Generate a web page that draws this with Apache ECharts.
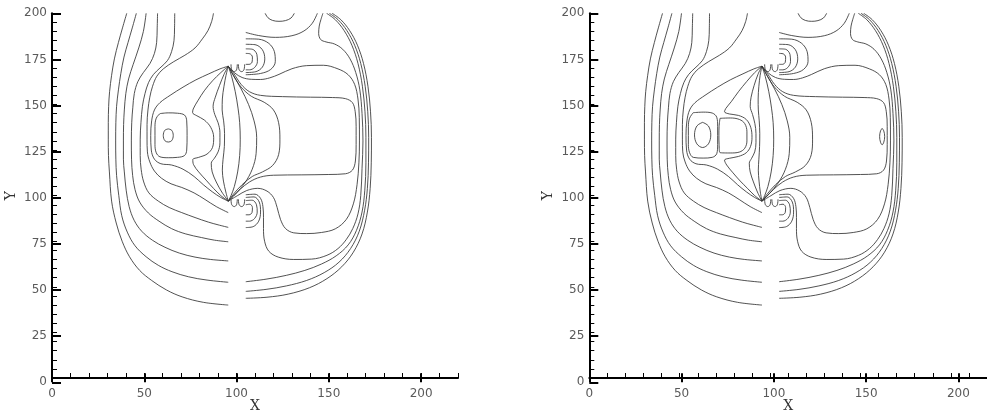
<!DOCTYPE html>
<html>
<head>
<meta charset="utf-8">
<script src="https://cdn.jsdelivr.net/npm/echarts@6.0.0/dist/echarts.min.js"></script>
<style>
html,body{margin:0;padding:0;background:#fff;}
#chart{width:987px;height:418px;}
</style>
</head>
<body>
<div id="chart"></div>
<script>
// ---- axis tick values ----
const xMajorTicks = [0, 50, 100, 150, 200];
const yMajorTicks = [0, 25, 50, 75, 100, 125, 150, 175, 200];
const xRange = [0, 220];
const yRange = [0, 200];

// ---- contour lines shared by both panels (x, y) ----
const lineA = [[40.5,200],[38.2,192],[36,184],[33.8,175],[32.3,166],[31.2,157],[30.7,149],[30.5,140],[30.5,131],[30.6,122],[31.1,113],[32.3,97],[34.8,85],[38,75],[42,66.5],[47.5,59],[54,53.5],[62,48.3],[70.5,44.5],[82,41.5],[95.5,40]];
const lineB = [[45.7,200],[43.5,192],[41.2,184],[39,176],[37.3,167],[36,158],[35,149],[34.6,140],[34.5,130],[34.6,120],[35,111],[36.2,100],[37.8,89],[40.8,80],[45,72.5],[51,66.5],[57.6,61.8],[65,58.3],[74,55.5],[84,53.7],[95.5,52.5]];
const lineC = [[51,200],[49.5,190],[47,181],[44,172],[41.5,164],[40,156],[39.2,147],[38.8,139],[38.7,130],[38.7,120],[39.2,113],[40.2,103],[41.8,94],[44.5,86.5],[48.6,80.5],[54.5,75.5],[61.2,71.7],[69,68.5],[77.5,66.3],[86,65],[95.5,64.2]];
const lineD = [[57.2,200],[57,192],[56.7,184],[55.5,178],[53.1,172.5],[49.5,167.5],[46.5,162.5],[44.6,156],[43.8,148.5],[43.2,140],[43,130],[43.1,120],[43.7,111],[45,103.3],[47.5,96.5],[52.2,90.5],[58,86],[64.8,81.9],[72.5,79],[81.1,77],[88,75.6],[95.5,74.7]];
const lineE = [[66.5,200],[66.4,192],[66.1,185],[64.8,179],[62.5,174],[58.5,170],[55,166.5],[52.3,162],[50.4,156],[49,149],[48.2,140],[47.8,131],[47.8,122],[48.3,114.5],[49.7,107.5],[52.5,101.5],[57.6,97],[63.5,93.5],[70.3,90.7],[77.5,88],[84.7,85.5],[90,84],[95.5,82.6]];
const lineF = [[87.5,200],[86.5,195.5],[84.5,190.5],[81.5,186],[77.5,181],[72,177],[66,173.5],[60.3,169.5],[56.8,165.5],[54.5,160],[53,154],[52,147],[51.5,139],[51.5,131],[51.7,124],[53,118.5],[55.5,113.5],[59.4,109.5],[64.5,106.5],[70.3,104.5],[77,101.5],[82.9,97.9],[89,94],[95.5,90.7]];
const lineG2 = [[95.5,171],[91,169.5],[85,166.8],[78,163.5],[71,159.5],[64,155],[58.5,151],[55.5,147],[54,141],[53.5,133],[53.8,125],[55.5,120],[59,117.5],[64.8,116.8],[71,114.5],[77,110.5],[82,106],[87,102],[91.5,99],[95.5,97]];

const arc1 = [[95.5,171],[97.3,165.5],[99.3,157],[100.8,148],[101.7,140],[102,131],[101.7,122],[100.6,113],[98.8,105],[97,100],[95.5,97]];
const arc2 = [[95.5,171],[98.3,166],[102.5,158.5],[106.5,150],[109.5,141],[110.9,132],[110.6,123],[108.5,114.5],[104.5,107],[99.5,101],[95.5,97]];
const arc3 = [[95.5,171],[98.5,165.5],[102.5,159.5],[108,154.5],[115,151.2],[120,147],[122.8,140],[123.5,131],[122.8,122.5],[119.5,116.5],[114,113],[108.5,110.5],[103,106],[98.5,101],[95.5,97]];
const boxR7 = [[95.5,171],[98.5,167],[102.5,161],[107,157],[113,155],[125,154.3],[140,154],[152,153.8],[159,153.2],[162.8,151],[164.3,146],[164.8,138],[164.8,128],[164.4,119],[162.8,114],[159,112],[150,111.6],[135,111.4],[120,111.2],[113,110.2],[107,107.5],[102,103.5],[98,99.5],[95.5,97]];
const lineP = [[95.5,171],[99,167.3],[103,164.8],[108,163.8],[113,163.7],[118,164.6],[123,166.5],[130,169.6],[138,171.3],[147,171.5],[155,169.5],[160.5,166.3],[164,161],[165.8,153],[166.5,143],[166.6,130],[166.3,118],[165.3,106],[163.3,95.5],[159.5,87],[153.5,81.8],[146,79.8],[138,79.2],[131,79.6],[126.5,82],[123.8,87],[122,93.5],[120,99],[116.5,102.5],[111.5,104],[105.5,102.8],[100.5,100],[95.5,97]];
const lineR6 = [[105,100.5],[110,100.8],[113,98.5],[114.3,94],[114.6,88],[114.6,82],[115.2,75],[117.5,69.5],[122.6,66.3],[131,65],[140.7,65.2],[149,67.3],[155,71],[159.5,76],[163,82],[165.8,90],[167.3,100],[168,115],[168.5,130],[168,145],[166.8,158],[164.6,167.5],[161.5,175],[157.5,180.3],[153,183.2],[148.5,184.3],[145.6,185.6],[144.5,189],[144.8,193],[145.7,196.5],[146.8,200]];
const lineB1 = [[148.8,200],[153.5,196.5],[158.3,190.5],[162.5,182.5],[165.8,172.5],[168.2,160],[169.6,146],[170.1,132],[170.1,118],[169.5,103],[168,91],[165,81],[160.5,73],[154,67],[146,62.5],[137,59],[127,56.3],[116,54.2],[105,52.8]];
const lineB2 = [[150.3,200],[155,196.5],[159.8,190.5],[164,182.5],[167.3,172.5],[169.7,160],[171.1,146],[171.6,132],[171.5,118],[170.9,104],[169.4,92],[166.5,80.5],[161.8,71],[155.5,63.5],[147.5,57.8],[138,53.5],[127,50.5],[116,48.6],[105,47.5]];
const lineB3 = [[151.8,200],[156.5,196.5],[161.3,190.5],[165.5,182.5],[168.8,172.5],[171.2,160],[172.6,146],[173.1,132],[173,118],[172.4,104],[170.9,91],[168,79],[163.3,69],[157,61],[149,54.5],[139.5,49.5],[128,46],[116.5,44.3],[105,43.7]];
const lineR2 = [[105,189.5],[112,187.8],[121,186.8],[130,187.7],[136.5,190.3],[141,194.5],[143.8,200]];
const arcTop = [[115.5,200],[117,197.6],[119.5,196.1],[123,195.6],[126.5,196],[129.5,197.4],[131.3,200]];

const bumpU1 = [[105,178],[107.2,177.8],[108.6,176],[108.4,173.2],[106.8,172],[105,172]];
const bumpU2 = [[105,180.5],[108.5,180.3],[111,177.5],[111.3,173.5],[109.8,170.3],[107,169],[105,169]];
const bumpU3 = [[105,183],[110,182.8],[114,180],[115.3,175],[114,170.5],[110.5,168],[105,167.5]];
const bumpU4 = [[105,186],[112,185.8],[117.5,183.5],[120.5,179],[121,173.5],[118.5,169.2],[113,167],[105,166.3]];
const bumpL1 = [[105,95],[107.2,95.3],[108.6,93.5],[108.4,90.8],[106.8,89.5],[105,89.5]];
const bumpL2 = [[105,97.3],[108.5,97.5],[110.8,95],[111.2,91],[109.8,87.5],[107,86],[105,86]];
const bumpL3 = [[105,99],[109.5,99.3],[112.3,96.5],[113,91],[112,86],[109,83],[105,82.5]];
const toothU1 = [[97,172],[97.4,169],[98.8,168],[100,169],[100.4,172]];
const toothU2 = [[101,172],[101.4,169],[102.8,168],[104,169],[104.4,172]];
const toothL1 = [[97,98],[97.4,95],[98.8,94],[100,95],[100.4,98]];
const toothL2 = [[101,98],[101.4,95],[102.8,94],[104,95],[104.4,98]];

// ---- left panel only ----
const leftG1 = [[95.5,171],[91.5,167.5],[87,163],[82.5,157.5],[79,152],[76.5,147.5],[76.2,145.5],[78.5,143.8],[82.5,141.5],[86,137.5],[87.6,132],[87,126.5],[84,122.8],[79.5,121],[76.3,119.8],[76.7,117],[79.5,113],[83.5,108.5],[87.5,104],[91.5,100],[95.5,97]];
const leftG0a = [[95.5,171],[93.2,166.5],[90.8,160.5],[88.5,154],[87.3,149],[88.2,144.5],[90,140],[91,134.5],[91,129],[90,124],[88,120.5],[86.3,117.8],[86.8,113],[89,107.5],[92,102],[95.5,97]];
const leftG0b = [[95.5,171],[94.3,166],[93.2,160],[92.3,153],[92.2,147],[93,141],[93.5,134],[93.4,127],[92.7,120],[92.3,114],[92.9,108],[94.2,102],[95.5,97]];
const leftLoop = [[58.5,145],[63,145.4],[68,145.2],[71.8,144.2],[73,141],[73.2,133],[73,125],[71.8,122],[68,121],[63,120.8],[58.5,121.3],[56.5,123.5],[55.8,128],[55.8,138],[56.5,142.5],[58.5,145]];
const leftCircle = [[63,136.6],[64.9,135.8],[65.7,133],[64.9,130.2],[63,129.4],[61.1,130.2],[60.3,133],[61.1,135.8],[63,136.6]];

// ---- right panel only ----
const rightG1 = [[95.5,171],[91.5,167.5],[87,162.5],[82.5,157],[78.5,151.5],[75.5,147.8],[74.8,146],[77.5,144.8],[82.5,144],[86.8,141.8],[89.3,137.5],[90,132],[89.2,127],[86.8,123.5],[82.5,121.5],[77.5,120.5],[74.8,119.5],[76,116.8],[79.5,112.5],[83.5,108],[87.5,104],[91.5,100],[95.5,97]];
const rightG0a = [[95.5,171],[93.3,166.5],[91.2,160.5],[89.5,154],[89,149],[90.3,144.5],[91.6,139.5],[92.2,134],[92.2,129],[91.5,124],[89.8,120.5],[88.5,117.8],[89,113],[90.8,107.5],[93,102],[95.5,97]];
const rightG0b = [[95.5,171],[94.5,166],[93.8,160],[93.4,153],[93.5,147],[94,141],[94.3,134],[94.2,127],[93.8,120],[93.5,114],[93.9,108],[94.6,102],[95.5,97]];
const rightRing = [[57.5,145.5],[63,145.8],[68,145.3],[70.5,143],[71,138],[71,128],[70.5,123],[68,121],[63,120.6],[57.5,121],[55.5,123.5],[54.8,128],[54.8,138],[55.5,142.5],[57.5,145.5]];
const rightEllipse = [[62.7,140.2],[65.9,138.2],[67.2,133.3],[65.9,128.4],[62.7,126.4],[59.5,128.4],[58.2,133.3],[59.5,138.2],[62.7,140.2]];
const rightMidLoop = [[72.3,142.4],[78,142.6],[83,141.8],[86,139.5],[87.2,135],[87.2,130],[86,126],[83,123.9],[78,123.4],[72.3,123.6],[71.8,128],[71.7,133],[71.8,138],[72.3,142.4]];
const rightSmallLoop = [[162,136.9],[162.9,135.5],[163.4,132.4],[162.9,129.3],[162,127.9],[161.1,129.3],[160.6,132.4],[161.1,135.5],[162,136.9]];

const sharedContours = [lineA,lineB,lineC,lineD,lineE,lineF,lineG2,arc1,arc2,arc3,boxR7,lineP,lineR6,lineB1,lineB2,lineB3,lineR2,arcTop,bumpU1,bumpU2,bumpU3,bumpU4,bumpL1,bumpL2,bumpL3,toothU1,toothU2,toothL1,toothL2];
const leftContours = sharedContours.concat([leftG1,leftG0a,leftG0b,leftLoop,leftCircle]);
const rightContours = sharedContours.concat([rightG1,rightG0a,rightG0b,rightRing,rightEllipse,rightMidLoop,rightSmallLoop]);

// ---- layout ----
const panelLeft = [52, 589.3];
const plotTop = 13.3, plotH = 369, plotW = 406;
const majorW = plotW * (xMajorTicks[xMajorTicks.length-1] - xRange[0]) / (xRange[1] - xRange[0]);

const chart = echarts.init(document.getElementById('chart'), null, {renderer:'canvas'});
const grids = [], xAxes = [], yAxes = [], series = [];
const labelStyle = {color:'#5a5a5a', fontSize:12, fontFamily:'DejaVu Sans'};
const nameStyle = {color:'#333', fontSize:14, fontFamily:'DejaVu Serif'};

panelLeft.forEach((left, p) => {
  const gA = grids.length;
  grids.push({left:left, top:plotTop, width:plotW, height:plotH, containLabel:false});
  xAxes.push({gridIndex:gA, type:'value', min:xRange[0], max:xRange[1], interval:10,
    axisLine:{show:true, onZero:false, lineStyle:{color:'#000', width:2}},
    axisTick:{show:true, inside:true, length:5, lineStyle:{color:'#000', width:1}},
    axisLabel:{show:false}, splitLine:{show:false},
    name:'X', nameLocation:'middle', nameGap:21, nameTextStyle:nameStyle});
  yAxes.push({gridIndex:gA, type:'value', min:yRange[0], max:yRange[1], interval:5,
    axisLine:{show:true, onZero:false, lineStyle:{color:'#000', width:2}},
    axisTick:{show:true, inside:true, length:5, lineStyle:{color:'#000', width:1}},
    axisLabel:{show:false}, splitLine:{show:false},
    name:'Y', nameLocation:'middle', nameGap:34, nameRotate:90, nameTextStyle:nameStyle});
  const gB = grids.length;
  grids.push({left:left, top:plotTop, width:majorW, height:plotH, containLabel:false});
  xAxes.push({gridIndex:gB, type:'value', min:xMajorTicks[0], max:xMajorTicks[xMajorTicks.length-1], interval:xMajorTicks[1]-xMajorTicks[0],
    axisLine:{show:false, onZero:false},
    axisTick:{show:true, inside:true, length:9, lineStyle:{color:'#000', width:2}},
    axisLabel:Object.assign({margin:6}, labelStyle), splitLine:{show:false}});
  yAxes.push({gridIndex:gB, type:'value', min:yMajorTicks[0], max:yMajorTicks[yMajorTicks.length-1], interval:yMajorTicks[1]-yMajorTicks[0],
    axisLine:{show:false, onZero:false},
    axisTick:{show:true, inside:true, length:9, lineStyle:{color:'#000', width:2}},
    axisLabel:Object.assign({margin:5}, labelStyle), splitLine:{show:false}});
  const list = p === 0 ? leftContours : rightContours;
  list.forEach(d => {
    series.push({type:'line', xAxisIndex:gA, yAxisIndex:gA, data:d, smooth:0.35,
      showSymbol:false, symbol:'none', silent:true, animation:false, clip:true,
      lineStyle:{color:'#333', width:0.85}});
  });
});

chart.setOption({animation:false, backgroundColor:'#fff', grid:grids, xAxis:xAxes, yAxis:yAxes, series:series});
</script>
</body>
</html>
